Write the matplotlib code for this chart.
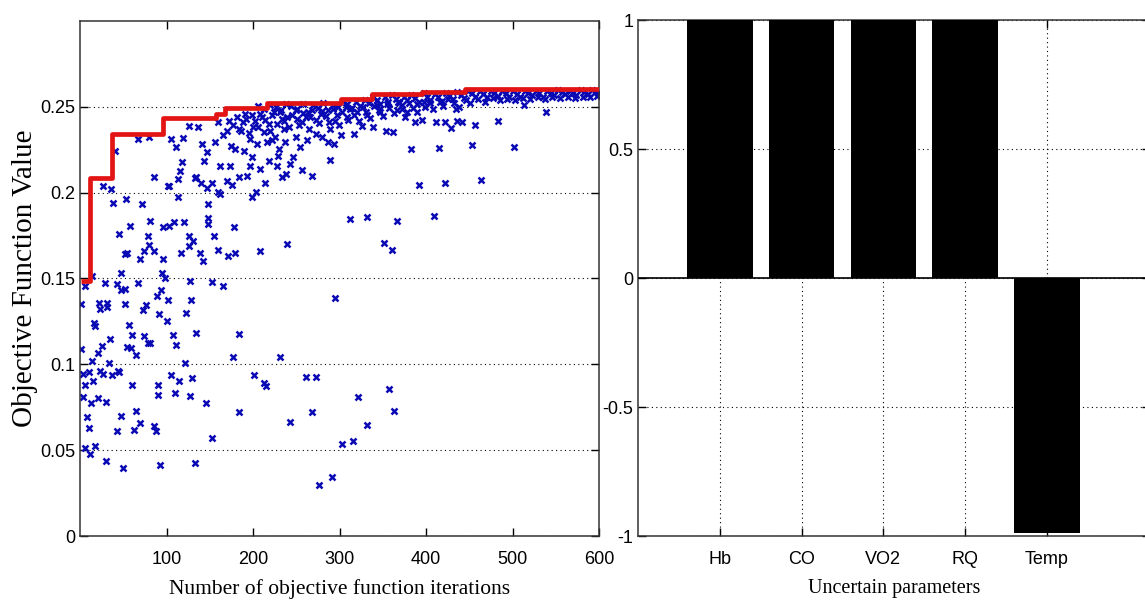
import numpy as np
import matplotlib.pyplot as plt

# objective function evaluations: iteration number and value
# early iterations, low values
low_iter = [5, 47, 51, 1, 21, 22, 31, 31, 51, 72, 76, 88, 93, 101, 91, 100, 122, 128,
            16, 17, 56, 60, 74, 78, 81, 107, 111, 134, 184, 34, 25, 20, 13, 1, 54, 58,
            64, 33, 121, 176, 3, 10, 23, 26, 37, 43, 45, 5, 15, 105, 114, 129, 60, 90,
            90, 109, 127, 3, 12, 20, 30, 145, 64, 47, 8, 183, 10, 42, 62, 69, 85, 87,
            152, 5, 11, 17, 29, 49, 92, 132,
            295, 231, 201, 212, 215, 261, 273, 268, 242, 321, 357, 363, 332, 303, 315,
            291, 276]
low_value = [0.1456, 0.1431, 0.1437, 0.1353, 0.1359, 0.1320, 0.1359, 0.1333, 0.1353,
             0.1314, 0.1345, 0.1398, 0.1431, 0.1372, 0.1295, 0.1252, 0.1301, 0.1372,
             0.1242, 0.1222, 0.1228, 0.1170, 0.1164, 0.1125, 0.1125, 0.1170, 0.1111,
             0.1184, 0.1174, 0.1150, 0.1105, 0.1066, 0.1022, 0.1092, 0.1099, 0.1095,
             0.1052, 0.1008, 0.1008, 0.1041, 0.0944, 0.0956, 0.0964, 0.0944, 0.0940,
             0.0960, 0.0956, 0.0882, 0.0901, 0.0940, 0.0905, 0.0921, 0.0878, 0.0882,
             0.0824, 0.0833, 0.0814, 0.0807, 0.0774, 0.0803, 0.0780, 0.0774, 0.0730,
             0.0697, 0.0691, 0.0722, 0.0629, 0.0613, 0.0619, 0.0658, 0.0639, 0.0610,
             0.0570, 0.0512, 0.0477, 0.0527, 0.0438, 0.0395, 0.0411, 0.0424,
             0.1388, 0.1041, 0.0936, 0.0892, 0.0872, 0.0925, 0.0925, 0.0722, 0.0664,
             0.0808, 0.0858, 0.0730, 0.0644, 0.0535, 0.0555, 0.0341, 0.0298]

# first 200 iterations, upper half
mid_iter = [40, 66, 79, 105, 110, 119, 126, 136, 141, 146, 143, 156, 159, 165, 169, 179,
            186, 190, 196, 198, 200, 189, 174, 85, 117, 115, 113, 103, 101, 113, 134,
            132, 140, 146, 152, 161, 173, 159, 161, 170, 175, 183, 193, 196, 199, 26,
            35, 38, 53, 71, 44, 57, 81, 78, 96, 102, 108, 120, 125, 130, 148, 148, 147,
            154, 178, 51, 54, 69, 74, 79, 85, 96, 116, 125, 138, 142, 159, 171, 179, 47,
            13, 28, 42, 66, 94, 98, 127, 152, 165]
mid_value = [0.2245, 0.2313, 0.2323, 0.2313, 0.2264, 0.2317, 0.2391, 0.2385, 0.2284,
             0.2235, 0.2187, 0.2294, 0.2411, 0.2333, 0.2362, 0.2255, 0.2362, 0.2459,
             0.2313, 0.2206, 0.2381, 0.2245, 0.2274, 0.2089, 0.2177, 0.2128, 0.2079,
             0.2040, 0.2036, 0.1972, 0.2089, 0.2083, 0.2059, 0.2030, 0.2059, 0.2153,
             0.2157, 0.2001, 0.1991, 0.2069, 0.2044, 0.2089, 0.2099, 0.2157, 0.1972,
             0.2040, 0.2021, 0.1939, 0.1962, 0.1933, 0.1758, 0.1805, 0.1836, 0.1748,
             0.1801, 0.1805, 0.1831, 0.1831, 0.1748, 0.1719, 0.1933, 0.1855, 0.1816,
             0.1748, 0.1801, 0.1641, 0.1647, 0.1612, 0.1661, 0.1694, 0.1661, 0.1612,
             0.1650, 0.1690, 0.1650, 0.1602, 0.1665, 0.1630, 0.1650, 0.1531, 0.1515,
             0.1476, 0.1466, 0.1476, 0.1531, 0.1500, 0.1487, 0.1481, 0.1454]

# iterations 200-600, scattered below the band
late_iter = [208, 204, 212, 218, 224, 216, 225, 233, 235, 239, 230, 229, 237, 249, 249,
             254, 256, 262, 266, 272, 278, 279, 287, 289, 293, 297, 301, 307, 310, 316,
             320, 326, 332, 339, 343, 347, 353, 355, 362, 366, 372, 378, 382, 387, 389,
             395, 397, 392, 203, 214, 208, 218, 227, 233, 238, 242, 246, 256, 268, 289,
             222, 208, 239, 312, 332, 366, 351, 361,
             411, 422, 429, 436, 442, 456, 434, 483, 539, 513, 415, 453, 502, 422, 464,
             409]
late_value = [0.2459, 0.2284, 0.2352, 0.2401, 0.2469, 0.2294, 0.2323, 0.2430, 0.2372,
              0.2440, 0.2255, 0.2216, 0.2294, 0.2479, 0.2323, 0.2264, 0.2411, 0.2304,
              0.2440, 0.2342, 0.2459, 0.2323, 0.2294, 0.2372, 0.2284, 0.2450, 0.2333,
              0.2498, 0.2421, 0.2343, 0.2469, 0.2391, 0.2450, 0.2381, 0.2508, 0.2469,
              0.2362, 0.2518, 0.2352, 0.2479, 0.2508, 0.2469, 0.2255, 0.2411, 0.2518,
              0.2421, 0.2528, 0.2044, 0.2001, 0.2055, 0.2137, 0.2186, 0.2157, 0.2089,
              0.2108, 0.2167, 0.2206, 0.2132, 0.2099, 0.2192, 0.2304, 0.1662, 0.1701,
              0.1846, 0.1856, 0.1836, 0.1705, 0.1665,
              0.2410, 0.2414, 0.2375, 0.2420, 0.2410, 0.2395, 0.2488, 0.2420, 0.2469,
              0.2512, 0.2258, 0.2278, 0.2264, 0.2056, 0.2076, 0.1862]

# dense cluster between the scatter and the band
dense_iter = [172, 176, 181, 184, 188, 192, 195, 198, 202, 206, 210, 214, 219, 222, 227,
              231, 236, 241, 245, 250, 253, 258, 261, 264, 268, 272, 276, 280, 284, 288,
              292, 295, 299, 303, 308, 312, 317, 322, 327, 330, 335, 340, 345, 350, 357,
              363, 368, 372, 376, 380, 385, 390, 399, 404, 408, 416, 420, 425, 432, 438,
              446, 451, 460, 468, 477, 486, 494, 503, 512, 520, 529, 538, 546, 555, 564,
              572, 581, 590, 598]
dense_value = [0.2420, 0.2395, 0.2440, 0.2372, 0.2410, 0.2430, 0.2350, 0.2452, 0.2415,
               0.2380, 0.2440, 0.2425, 0.2360, 0.2450, 0.2400, 0.2470, 0.2415, 0.2385,
               0.2455, 0.2430, 0.2395, 0.2465, 0.2440, 0.2370, 0.2480, 0.2425, 0.2405,
               0.2475, 0.2445, 0.2410, 0.2485, 0.2420, 0.2395, 0.2470, 0.2440, 0.2490,
               0.2455, 0.2420, 0.2500, 0.2470, 0.2435, 0.2505, 0.2480, 0.2445, 0.2495,
               0.2465, 0.2530, 0.2485, 0.2440, 0.2520, 0.2495, 0.2470, 0.2500, 0.2520,
               0.2490, 0.2530, 0.2505, 0.2545, 0.2520, 0.2500, 0.2540, 0.2525, 0.2545,
               0.2530, 0.2550, 0.2540, 0.2548, 0.2538, 0.2552, 0.2545, 0.2555, 0.2548,
               0.2556, 0.2550, 0.2558, 0.2552, 0.2560, 0.2555, 0.2562]

# converged band just under the best value
band_iter = [205, 212, 219, 226, 232, 238, 244, 251, 257, 263, 269, 275, 281, 287, 292,
             298, 304, 309, 314, 319, 324, 329, 334, 339, 343, 347, 352, 356, 361, 365,
             369, 374, 378, 383, 387, 392, 397, 401, 405, 410, 414, 418, 423, 427, 431,
             436, 440, 444, 449, 453, 457, 462, 466, 470, 475, 479, 483, 488, 492, 496,
             501, 505, 509, 514, 518, 522, 527, 531, 535, 540, 544, 548, 553, 557, 561,
             566, 570, 574, 579, 583, 587, 592, 596, 599]
band_value = [0.2505, 0.2490, 0.2512, 0.2498, 0.2480, 0.2515, 0.2502, 0.2488, 0.2518,
              0.2470, 0.2508, 0.2495, 0.2520, 0.2482, 0.2510, 0.2500, 0.2535, 0.2515,
              0.2492, 0.2528, 0.2505, 0.2538, 0.2520, 0.2560, 0.2540, 0.2515, 0.2555,
              0.2530, 0.2566, 0.2545, 0.2520, 0.2560, 0.2538, 0.2570, 0.2550, 0.2528,
              0.2578, 0.2555, 0.2540, 0.2575, 0.2560, 0.2535, 0.2580, 0.2562, 0.2545,
              0.2585, 0.2570, 0.2552, 0.2595, 0.2578, 0.2560, 0.2590, 0.2575, 0.2555,
              0.2592, 0.2580, 0.2565, 0.2595, 0.2582, 0.2560, 0.2590, 0.2575, 0.2558,
              0.2595, 0.2580, 0.2568, 0.2592, 0.2578, 0.2560, 0.2595, 0.2582, 0.2570,
              0.2596, 0.2584, 0.2572, 0.2594, 0.2580, 0.2566, 0.2597, 0.2585, 0.2575,
              0.2596, 0.2588, 0.2580]

# best objective value found so far
best_iter = [1, 11, 36, 96, 157, 167, 216, 301, 337, 395, 445, 600]
best_value = [0.1486, 0.2084, 0.2342, 0.2434, 0.2459, 0.2492, 0.2523, 0.2547, 0.2576,
              0.2589, 0.2605, 0.2605]

# sensitivity of the uncertain parameters
params = ['Hb', 'CO', 'VO2', 'RQ', 'Temp']
sensitivity = [1, 1, 1, 1, -0.99]

iters = np.concatenate([low_iter, mid_iter, late_iter, dense_iter, band_iter])
values = np.concatenate([low_value, mid_value, late_value, dense_value, band_value])

plt.rcParams['font.family'] = 'Liberation Sans'
plt.rcParams['xtick.direction'] = 'in'
plt.rcParams['ytick.direction'] = 'in'

fig = plt.figure(figsize=(11.45, 6.1), dpi=100)
ax1 = fig.add_axes([0.0703, 0.1213, 0.4528, 0.8443])
# the right axes runs past the edge of the figure
bar_unit = 81.8 / 1145
ax2 = fig.add_axes([0.5572, 0.1213, 0.4472, 0.8459])

grid_kw = dict(color='black', linestyle=(0, (1, 3)), linewidth=0.8)

# left: objective values over iterations
ax1.plot(iters, values, linestyle='none', marker='x', markersize=5, mew=1.8,
         color='#0a0ab4', zorder=2)
ax1.plot(best_iter, best_value, drawstyle='steps-post', color='#e31414', lw=3.4,
         solid_capstyle='butt', zorder=3)
ax1.set_xlim(0, 600)
ax1.set_ylim(0, 0.3)
ax1.set_xticks(range(100, 601, 100))
ax1.set_yticks([0, 0.05, 0.1, 0.15, 0.2, 0.25])
ax1.set_yticklabels(['0', '0.05', '0.1', '0.15', '0.2', '0.25'])
ax1.yaxis.grid(True, **grid_kw)
ax1.set_xlabel('Number of objective function iterations', family='Liberation Serif',
               fontsize=15.5, labelpad=8)
ax1.set_ylabel('Objective Function Value', family='Liberation Serif', fontsize=21,
               labelpad=2)

# right: bar chart of parameter sensitivity
pos = np.arange(1, len(params) + 1)
ax2.bar(pos, sensitivity, width=0.8, color='black', zorder=3)
ax2.axhline(0, color='black', lw=1.2, zorder=4)
ax2.set_xlim(0, 0.4472 / bar_unit)
ax2.set_ylim(-1, 1)
ax2.set_xticks(pos)
ax2.set_xticklabels(params)
ax2.set_yticks([-1, -0.5, 0, 0.5, 1])
ax2.set_yticklabels(['-1', '-0.5', '0', '0.5', '1'])
ax2.grid(True, **grid_kw)
ax2.set_axisbelow(True)
ax2.set_xlabel('Uncertain parameters', family='Liberation Serif', fontsize=14.5,
               labelpad=8)

for ax in (ax1, ax2):
    ax.tick_params(labelsize=13, length=5.5, width=1, top=True, right=True)
    ax.tick_params(axis='x', pad=11)
    ax.tick_params(axis='y', pad=3.5)
    for s in ax.spines.values():
        s.set_linewidth(1.1)
        s.set_color('#333333')

fig.savefig('out.png', dpi=100)
